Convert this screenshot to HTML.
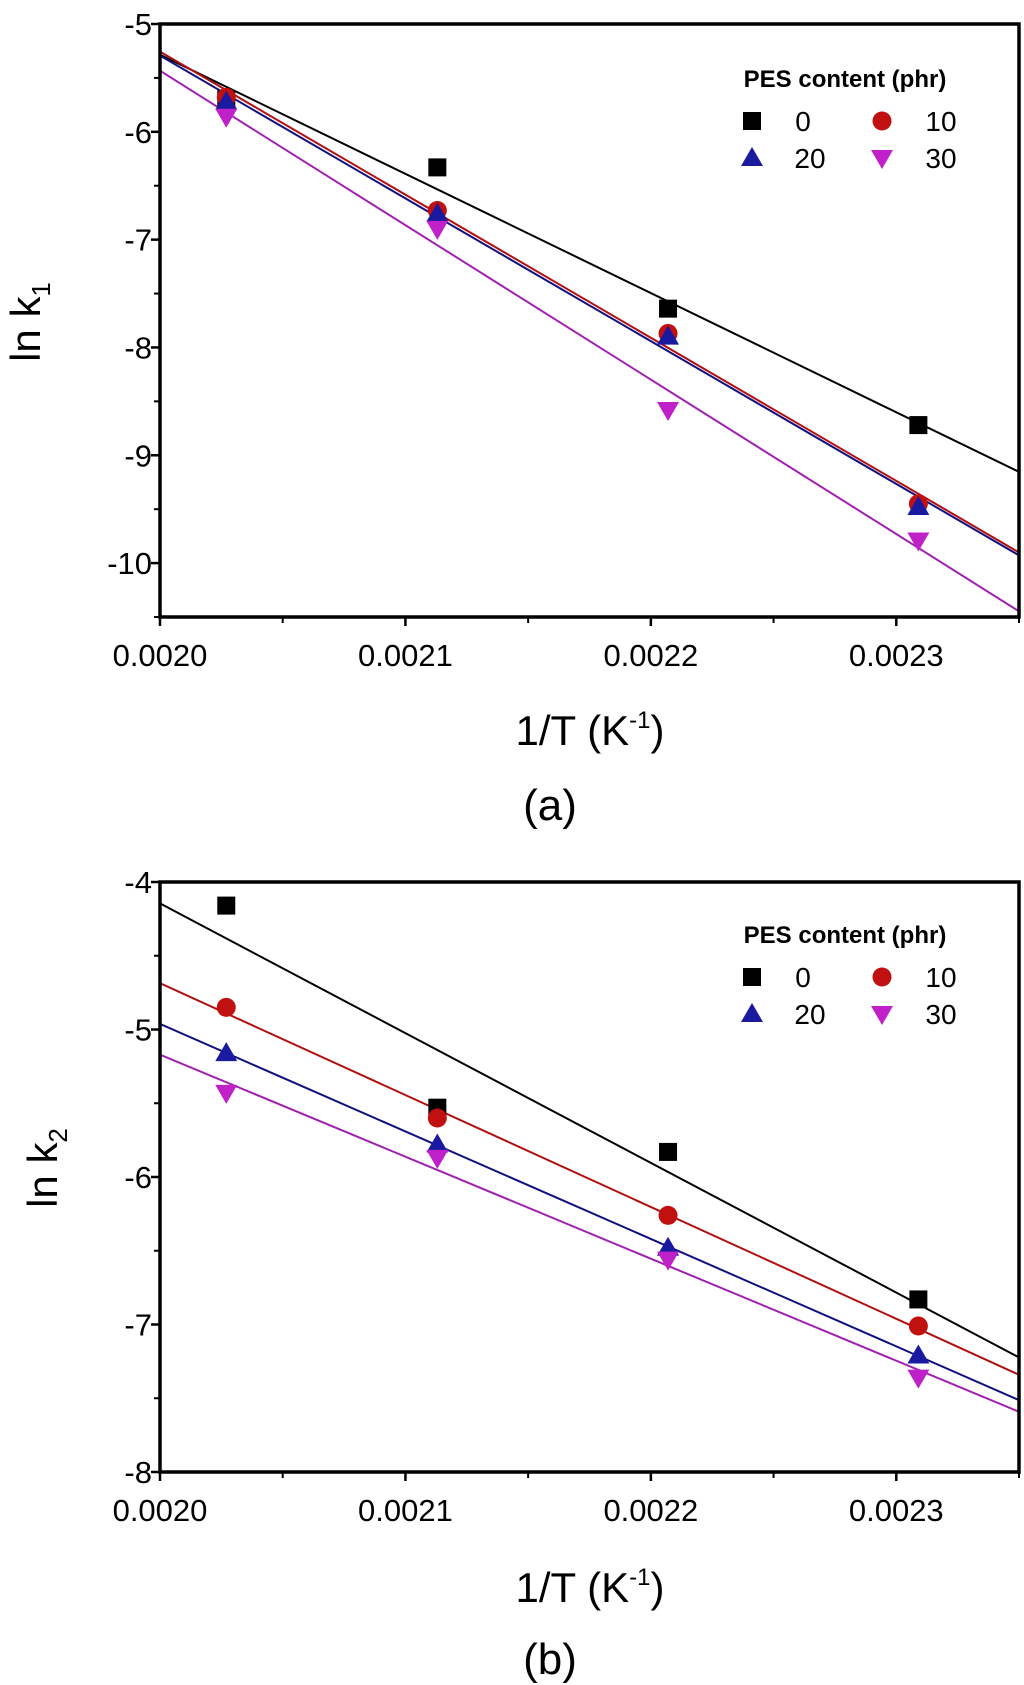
<!DOCTYPE html>
<html><head><meta charset="utf-8"><style>
html,body{margin:0;padding:0;background:#fff}
svg{display:block;font-family:"Liberation Sans",Arial,sans-serif}
</style></head><body>
<svg id="fig" width="1024" height="1685" viewBox="0 0 1024 1685"></svg>
<script>
const xVals=[0.002027,0.002113,0.002207,0.002309];
const seriesNames=["0","10","20","30"];
const k1_s0=[-5.70,-6.33,-7.64,-8.72];
const k1_s10=[-5.68,-6.73,-7.87,-9.45];
const k1_s20=[-5.72,-6.76,-7.90,-9.48];
const k1_s30=[-5.86,-6.90,-8.58,-9.79];
const k2_s0=[-4.16,-5.53,-5.83,-6.83];
const k2_s10=[-4.85,-5.60,-6.26,-7.01];
const k2_s20=[-5.16,-5.78,-6.48,-7.21];
const k2_s30=[-5.43,-5.87,-6.56,-7.36];
const xTicks=[0.0020,0.0021,0.0022,0.0023];
const xTickLabels=["0.0020","0.0021","0.0022","0.0023"];
const yTicksA=[-5,-6,-7,-8,-9,-10];
const yTicksB=[-4,-5,-6,-7,-8];

const NS="http://www.w3.org/2000/svg";
const svg=document.getElementById('fig');
const colors=["#000000","#c0100f","#1a1aa0","#c020c8"];
const lineColors=["#000000","#b01010","#101080","#a020b0"];
const shapes=["square","circle","tri","itri"];
function mk(tag,attrs,parent){const e=document.createElementNS(NS,tag);for(const k in attrs)e.setAttribute(k,attrs[k]);(parent||svg).appendChild(e);return e;}
function txt(s,x,y,size,anchor,parent){const t=mk('text',{x:x,y:y,'font-size':size,'text-anchor':anchor||'middle',fill:'#000'},parent);t.textContent=s;return t;}
function marker(shape,cx,cy,col,g){
  let e;
  if(shape==="square")e=mk('rect',{x:cx-9,y:cy-9,width:18,height:18,fill:col},g);
  else if(shape==="circle")e=mk('circle',{cx:cx,cy:cy,r:9.5,fill:col},g);
  else if(shape==="tri")e=mk('polygon',{points:`${cx},${cy-11} ${cx-11},${cy+8} ${cx+11},${cy+8}`,fill:col},g);
  else e=mk('polygon',{points:`${cx},${cy+11} ${cx-11},${cy-8} ${cx+11},${cy-8}`,fill:col},g);
  return e;
}
function fit(xs,ys){const n=xs.length;let mx=0,my=0;for(let i=0;i<n;i++){mx+=xs[i];my+=ys[i];}mx/=n;my/=n;let sxy=0,sxx=0;for(let i=0;i<n;i++){sxy+=(xs[i]-mx)*(ys[i]-my);sxx+=(xs[i]-mx)**2;}const b=sxy/sxx;return [my-b*mx,b];}

function panel(cfg){
  const g=mk('g',{});
  
  
  const L=160,R=1019,T=cfg.top,B=cfg.bottom,x0=0.0020,x1=0.00235;
  const sx=v=>L+(v-x0)/(x1-x0)*(R-L);
  const sy=v=>T+(cfg.ymax-v)/(cfg.ymax-cfg.ymin)*(B-T);
  const clip='clip'+cfg.name;
  const cp=mk('clipPath',{id:clip},g);mk('rect',{x:L,y:T,width:R-L,height:B-T},cp);
  const lg=mk('g',{'clip-path':`url(#${clip})`},g);
  cfg.series.forEach((ys,i)=>{
    const [a,b]=fit(xVals,ys);
    const ln=mk('line',{x1:sx(x0),y1:sy(a+b*x0),x2:sx(x1),y2:sy(a+b*x1),stroke:lineColors[i],'stroke-width':2},lg);
    
    
  });
  cfg.series.forEach((ys,i)=>{
    ys.forEach((v,j)=>{
      const m=marker(shapes[i],sx(xVals[j]),sy(v),colors[i],g);
      
      
    });
  });
  const fr=mk('rect',{x:L,y:T,width:R-L,height:B-T,fill:'none',stroke:'#000','stroke-width':3.5},g);
  
  
  xTicks.forEach((v,i)=>{
    mk('line',{x1:sx(v),y1:B,x2:sx(v),y2:B+9,stroke:'#000','stroke-width':2.5},g);
    mk('line',{x1:sx(v+0.00005),y1:B,x2:sx(v+0.00005),y2:B+6,stroke:'#000','stroke-width':2},g);
    const t=txt(xTickLabels[i],sx(v),B+49,31,'middle',g);
    
    
  });
  cfg.yticks.forEach(v=>{
    mk('line',{x1:L-9,y1:sy(v),x2:L,y2:sy(v),stroke:'#000','stroke-width':2.5},g);
    if(v-0.5>=cfg.ymin)mk('line',{x1:L-6,y1:sy(v-0.5),x2:L,y2:sy(v-0.5),stroke:'#000','stroke-width':2},g);
    const t=txt(String(v),L-8,sy(v)+11,31,'end',g);
    
    
  });
  const xt=txt('',590,cfg.xTitleY,42,'middle',g);
  xt.innerHTML='1/T (K<tspan font-size="24" dy="-17">-1</tspan><tspan dy="17">)</tspan>';
  
  
  const yt=mk('text',{transform:`translate(${cfg.yTitleX},${cfg.yTitleY}) rotate(-90)`,'font-size':42,'text-anchor':'middle',fill:'#000'},g);
  yt.innerHTML='ln k<tspan font-size="26" dy="10">'+cfg.sub+'</tspan>';
  
  
  const lgd=mk('g',{},g);
  
  
  const lt=txt('PES content (phr)',845,cfg.legY,24,'middle',lgd);
  lt.setAttribute('font-weight','bold');
  const pos=[[752,cfg.legY+34,803],[882,cfg.legY+34,941],[752,cfg.legY+71,810],[882,cfg.legY+71,941]];
  pos.forEach((p,i)=>{
    const e=mk('g',{},lgd);
    
    
    marker(shapes[i],p[0],p[1],colors[i],e);
    txt(seriesNames[i],p[2],p[1]+10,28,'middle',e);
  });
  const cap=txt(cfg.caption,550,cfg.capY,44,'middle',g);
  
  
}
panel({name:'panel-a',top:24,bottom:617,ymax:-5,ymin:-10.5,yticks:yTicksA,series:[k1_s0,k1_s10,k1_s20,k1_s30],
  xTitleY:745,yTitleX:40,yTitleY:322,sub:'1',legY:87,caption:'(a)',capY:820});
panel({name:'panel-b',top:882,bottom:1472,ymax:-4,ymin:-8,yticks:yTicksB,series:[k2_s0,k2_s10,k2_s20,k2_s30],
  xTitleY:1602,yTitleX:57,yTitleY:1168,sub:'2',legY:943,caption:'(b)',capY:1674});
</script>
</body></html>
